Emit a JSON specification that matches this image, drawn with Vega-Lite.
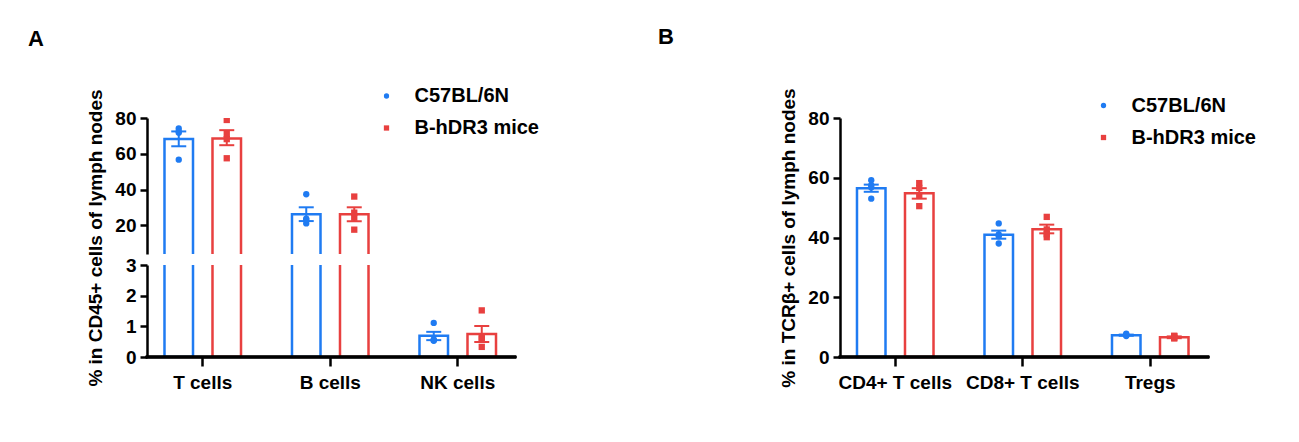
{
  "$schema": "https://vega.github.io/schema/vega-lite/v6.json",
  "background": "white",
  "padding": {"left": 28, "top": 26, "right": 5, "bottom": 5},
  "datasets": {
    "sumA": [
      {"cell": "T cells", "strain": "C57BL/6N", "mean": 68.3, "lo": 64.2, "hi": 72.5},
      {"cell": "T cells", "strain": "B-hDR3 mice", "mean": 68.6, "lo": 64.8, "hi": 73.2},
      {"cell": "B cells", "strain": "C57BL/6N", "mean": 26.2, "lo": 22.4, "hi": 30.1},
      {"cell": "B cells", "strain": "B-hDR3 mice", "mean": 26.2, "lo": 22.3, "hi": 30.1},
      {"cell": "NK cells", "strain": "C57BL/6N", "mean": 0.69, "lo": 0.55, "hi": 0.82},
      {"cell": "NK cells", "strain": "B-hDR3 mice", "mean": 0.75, "lo": 0.49, "hi": 1.01}
    ],
    "ptsA": [
      {"cell": "T cells", "strain": "C57BL/6N", "value": 74.2},
      {"cell": "T cells", "strain": "C57BL/6N", "value": 71.7},
      {"cell": "T cells", "strain": "C57BL/6N", "value": 72.5},
      {"cell": "T cells", "strain": "C57BL/6N", "value": 56.7},
      {"cell": "T cells", "strain": "B-hDR3 mice", "value": 78.9},
      {"cell": "T cells", "strain": "B-hDR3 mice", "value": 68.2},
      {"cell": "T cells", "strain": "B-hDR3 mice", "value": 71.2},
      {"cell": "T cells", "strain": "B-hDR3 mice", "value": 57.5},
      {"cell": "B cells", "strain": "C57BL/6N", "value": 37.4},
      {"cell": "B cells", "strain": "C57BL/6N", "value": 21.1},
      {"cell": "B cells", "strain": "C57BL/6N", "value": 23.8},
      {"cell": "B cells", "strain": "C57BL/6N", "value": 23.2},
      {"cell": "B cells", "strain": "B-hDR3 mice", "value": 36.1},
      {"cell": "B cells", "strain": "B-hDR3 mice", "value": 27.1},
      {"cell": "B cells", "strain": "B-hDR3 mice", "value": 24.3},
      {"cell": "B cells", "strain": "B-hDR3 mice", "value": 17.6},
      {"cell": "NK cells", "strain": "C57BL/6N", "value": 1.11},
      {"cell": "NK cells", "strain": "C57BL/6N", "value": 0.53},
      {"cell": "NK cells", "strain": "C57BL/6N", "value": 0.57},
      {"cell": "NK cells", "strain": "C57BL/6N", "value": 0.55},
      {"cell": "NK cells", "strain": "B-hDR3 mice", "value": 1.52},
      {"cell": "NK cells", "strain": "B-hDR3 mice", "value": 0.60},
      {"cell": "NK cells", "strain": "B-hDR3 mice", "value": 0.63},
      {"cell": "NK cells", "strain": "B-hDR3 mice", "value": 0.33}
    ],
    "sumB": [
      {"cell": "CD4+ T cells", "strain": "C57BL/6N", "mean": 56.5, "lo": 55.3, "hi": 57.7},
      {"cell": "CD4+ T cells", "strain": "B-hDR3 mice", "mean": 54.8, "lo": 53.0, "hi": 56.5},
      {"cell": "CD8+ T cells", "strain": "C57BL/6N", "mean": 40.9, "lo": 39.6, "hi": 42.3},
      {"cell": "CD8+ T cells", "strain": "B-hDR3 mice", "mean": 42.8, "lo": 41.4, "hi": 44.3},
      {"cell": "Tregs", "strain": "C57BL/6N", "mean": 7.3, "lo": 7.1, "hi": 7.5},
      {"cell": "Tregs", "strain": "B-hDR3 mice", "mean": 6.6, "lo": 6.3, "hi": 6.9}
    ],
    "ptsB": [
      {"cell": "CD4+ T cells", "strain": "C57BL/6N", "value": 59.2},
      {"cell": "CD4+ T cells", "strain": "C57BL/6N", "value": 57.5},
      {"cell": "CD4+ T cells", "strain": "C57BL/6N", "value": 56.7},
      {"cell": "CD4+ T cells", "strain": "C57BL/6N", "value": 53.0},
      {"cell": "CD4+ T cells", "strain": "B-hDR3 mice", "value": 58.2},
      {"cell": "CD4+ T cells", "strain": "B-hDR3 mice", "value": 56.6},
      {"cell": "CD4+ T cells", "strain": "B-hDR3 mice", "value": 54.2},
      {"cell": "CD4+ T cells", "strain": "B-hDR3 mice", "value": 50.5},
      {"cell": "CD8+ T cells", "strain": "C57BL/6N", "value": 44.7},
      {"cell": "CD8+ T cells", "strain": "C57BL/6N", "value": 41.0},
      {"cell": "CD8+ T cells", "strain": "C57BL/6N", "value": 40.4},
      {"cell": "CD8+ T cells", "strain": "C57BL/6N", "value": 38.0},
      {"cell": "CD8+ T cells", "strain": "B-hDR3 mice", "value": 46.9},
      {"cell": "CD8+ T cells", "strain": "B-hDR3 mice", "value": 42.7},
      {"cell": "CD8+ T cells", "strain": "B-hDR3 mice", "value": 41.1},
      {"cell": "CD8+ T cells", "strain": "B-hDR3 mice", "value": 40.1},
      {"cell": "Tregs", "strain": "C57BL/6N", "value": 7.8},
      {"cell": "Tregs", "strain": "C57BL/6N", "value": 7.0},
      {"cell": "Tregs", "strain": "C57BL/6N", "value": 7.35},
      {"cell": "Tregs", "strain": "C57BL/6N", "value": 7.45},
      {"cell": "Tregs", "strain": "B-hDR3 mice", "value": 7.1},
      {"cell": "Tregs", "strain": "B-hDR3 mice", "value": 6.2},
      {"cell": "Tregs", "strain": "B-hDR3 mice", "value": 6.45},
      {"cell": "Tregs", "strain": "B-hDR3 mice", "value": 7.0}
    ]
  },
  "bounds": "flush",
  "spacing": 693,
  "resolve": {"legend": {"color": "independent", "shape": "independent"}},
  "hconcat": [
    {
      "bounds": "flush",
      "spacing": 11,
      "resolve": {"legend": {"color": "independent", "shape": "independent"}},
      "vconcat": [
        {
          "width": 368,
          "height": 136,
          "title": {"text": "A", "anchor": "start", "frame": "group", "dx": -119, "offset": 35.5},
          "layer": [
            {
              "data": {"name": "sumA"},
              "mark": {"type": "bar", "filled": false, "strokeWidth": 2.5, "clip": true},
              "encoding": {
                "x": {"field": "cell", "type": "nominal", "sort": ["T cells", "B cells", "NK cells"], "scale": {"range": [-8, 374.5], "paddingInner": 0, "paddingOuter": 0}, "axis": null},
                "xOffset": {"field": "strain", "type": "nominal", "sort": ["C57BL/6N", "B-hDR3 mice"], "scale": {"paddingInner": 0.406, "paddingOuter": 0.531}},
                "y": {"field": "mean", "type": "quantitative", "title": "% in CD45+ cells of lymph nodes", "scale": {"domain": [4, 80], "nice": false, "zero": false}, "axis": {"values": [20, 40, 60, 80], "tickCount": 10, "format": "d", "titleY": 119.5}},
                "y2": {"datum": 0},
                "stroke": {"field": "strain", "type": "nominal", "scale": {"domain": ["C57BL/6N", "B-hDR3 mice"], "range": ["#1F7BF2", "#E8403F"]}, "legend": null}
              }
            },
            {
              "data": {"name": "sumA"},
              "mark": {"type": "rule", "strokeWidth": 2, "clip": true},
              "encoding": {
                "x": {"field": "cell", "type": "nominal", "sort": ["T cells", "B cells", "NK cells"], "axis": null},
                "xOffset": {"field": "strain", "type": "nominal", "sort": ["C57BL/6N", "B-hDR3 mice"]},
                "y": {"field": "lo", "type": "quantitative", "title": "% in CD45+ cells of lymph nodes", "scale": {"domain": [4, 80], "nice": false, "zero": false}, "axis": {"values": [20, 40, 60, 80], "tickCount": 10, "format": "d", "titleY": 119.5}},
                "y2": {"field": "hi"},
                "stroke": {"field": "strain", "type": "nominal", "legend": null}
              }
            },
            {
              "data": {"name": "sumA"},
              "mark": {"type": "tick", "orient": "horizontal", "size": 15, "thickness": 2, "opacity": 1, "clip": true},
              "encoding": {
                "x": {"field": "cell", "type": "nominal", "sort": ["T cells", "B cells", "NK cells"], "axis": null},
                "xOffset": {"field": "strain", "type": "nominal", "sort": ["C57BL/6N", "B-hDR3 mice"]},
                "y": {"field": "lo", "type": "quantitative", "title": "% in CD45+ cells of lymph nodes", "scale": {"domain": [4, 80], "nice": false, "zero": false}, "axis": {"values": [20, 40, 60, 80], "tickCount": 10, "format": "d", "titleY": 119.5}},
                "fill": {"field": "strain", "type": "nominal", "scale": {"domain": ["C57BL/6N", "B-hDR3 mice"], "range": ["#1F7BF2", "#E8403F"]}, "legend": null}
              }
            },
            {
              "data": {"name": "sumA"},
              "mark": {"type": "tick", "orient": "horizontal", "size": 15, "thickness": 2, "opacity": 1, "clip": true},
              "encoding": {
                "x": {"field": "cell", "type": "nominal", "sort": ["T cells", "B cells", "NK cells"], "axis": null},
                "xOffset": {"field": "strain", "type": "nominal", "sort": ["C57BL/6N", "B-hDR3 mice"]},
                "y": {"field": "hi", "type": "quantitative", "title": "% in CD45+ cells of lymph nodes", "scale": {"domain": [4, 80], "nice": false, "zero": false}, "axis": {"values": [20, 40, 60, 80], "tickCount": 10, "format": "d", "titleY": 119.5}},
                "fill": {"field": "strain", "type": "nominal", "legend": null}
              }
            },
            {
              "data": {"name": "ptsA"},
              "mark": {"type": "point", "filled": true, "size": 40, "opacity": 1, "clip": true},
              "encoding": {
                "x": {"field": "cell", "type": "nominal", "sort": ["T cells", "B cells", "NK cells"], "axis": null},
                "xOffset": {"field": "strain", "type": "nominal", "sort": ["C57BL/6N", "B-hDR3 mice"]},
                "y": {"field": "value", "type": "quantitative", "title": "% in CD45+ cells of lymph nodes", "scale": {"domain": [4, 80], "nice": false, "zero": false}, "axis": {"values": [20, 40, 60, 80], "tickCount": 10, "format": "d", "titleY": 119.5}},
                "color": {"field": "strain", "type": "nominal", "scale": {"domain": ["C57BL/6N", "B-hDR3 mice"], "range": ["#1F7BF2", "#E8403F"]}, "legend": {"orient": "none", "legendX": 229.5, "legendY": -32, "title": null, "labelOffset": 18, "rowPadding": 12}},
                "shape": {"field": "strain", "type": "nominal", "scale": {"domain": ["C57BL/6N", "B-hDR3 mice"], "range": ["circle", "square"]}, "legend": {"orient": "none", "legendX": 229.5, "legendY": -32, "title": null, "labelOffset": 18, "rowPadding": 12}}
              }
            }
          ]
        },
        {
          "width": 368,
          "height": 92,
          "layer": [
            {
              "data": {"name": "sumA"},
              "mark": {"type": "bar", "filled": false, "strokeWidth": 2.5, "clip": true},
              "encoding": {
                "x": {"field": "cell", "type": "nominal", "sort": ["T cells", "B cells", "NK cells"], "title": null, "scale": {"range": [-8, 374.5], "paddingInner": 0, "paddingOuter": 0}},
                "xOffset": {"field": "strain", "type": "nominal", "sort": ["C57BL/6N", "B-hDR3 mice"], "scale": {"paddingInner": 0.406, "paddingOuter": 0.531}},
                "y": {"field": "mean", "type": "quantitative", "title": null, "scale": {"domain": [0, 3], "nice": false}, "axis": {"values": [0, 1, 2, 3], "tickCount": 10, "format": "d"}},
                "y2": {"datum": 0},
                "stroke": {"field": "strain", "type": "nominal", "legend": null}
              }
            },
            {
              "data": {"name": "sumA"},
              "mark": {"type": "rule", "strokeWidth": 2, "clip": true},
              "encoding": {
                "x": {"field": "cell", "type": "nominal", "sort": ["T cells", "B cells", "NK cells"], "title": null},
                "xOffset": {"field": "strain", "type": "nominal", "sort": ["C57BL/6N", "B-hDR3 mice"]},
                "y": {"field": "lo", "type": "quantitative", "title": null, "scale": {"domain": [0, 3], "nice": false}, "axis": {"values": [0, 1, 2, 3], "tickCount": 10, "format": "d"}},
                "y2": {"field": "hi"},
                "stroke": {"field": "strain", "type": "nominal", "legend": null}
              }
            },
            {
              "data": {"name": "sumA"},
              "mark": {"type": "tick", "orient": "horizontal", "size": 15, "thickness": 2, "opacity": 1, "clip": true},
              "encoding": {
                "x": {"field": "cell", "type": "nominal", "sort": ["T cells", "B cells", "NK cells"], "title": null},
                "xOffset": {"field": "strain", "type": "nominal", "sort": ["C57BL/6N", "B-hDR3 mice"]},
                "y": {"field": "lo", "type": "quantitative", "title": null, "scale": {"domain": [0, 3], "nice": false}, "axis": {"values": [0, 1, 2, 3], "tickCount": 10, "format": "d"}},
                "fill": {"field": "strain", "type": "nominal", "legend": null}
              }
            },
            {
              "data": {"name": "sumA"},
              "mark": {"type": "tick", "orient": "horizontal", "size": 15, "thickness": 2, "opacity": 1, "clip": true},
              "encoding": {
                "x": {"field": "cell", "type": "nominal", "sort": ["T cells", "B cells", "NK cells"], "title": null},
                "xOffset": {"field": "strain", "type": "nominal", "sort": ["C57BL/6N", "B-hDR3 mice"]},
                "y": {"field": "hi", "type": "quantitative", "title": null, "scale": {"domain": [0, 3], "nice": false}, "axis": {"values": [0, 1, 2, 3], "tickCount": 10, "format": "d"}},
                "fill": {"field": "strain", "type": "nominal", "legend": null}
              }
            },
            {
              "data": {"name": "ptsA"},
              "mark": {"type": "point", "filled": true, "size": 40, "opacity": 1, "clip": true},
              "encoding": {
                "x": {"field": "cell", "type": "nominal", "sort": ["T cells", "B cells", "NK cells"], "title": null},
                "xOffset": {"field": "strain", "type": "nominal", "sort": ["C57BL/6N", "B-hDR3 mice"]},
                "y": {"field": "value", "type": "quantitative", "title": null, "scale": {"domain": [0, 3], "nice": false}, "axis": {"values": [0, 1, 2, 3], "tickCount": 10, "format": "d"}},
                "color": {"field": "strain", "type": "nominal", "legend": null},
                "shape": {"field": "strain", "type": "nominal", "legend": null}
              }
            },
            {
              "data": {"name": "sumA"},
              "mark": {"type": "rule", "strokeWidth": 2.5, "color": "black", "strokeCap": "square"},
              "encoding": {"y": {"datum": 0}}
            }
          ]
        }
      ]
    },
    {
      "width": 368,
      "height": 239,
      "title": {"text": "B", "anchor": "start", "frame": "group", "dx": -182, "offset": 38.5},
      "layer": [
        {
          "data": {"name": "sumB"},
          "mark": {"type": "bar", "filled": false, "strokeWidth": 2.5},
          "encoding": {
            "x": {"field": "cell", "type": "nominal", "sort": ["CD4+ T cells", "CD8+ T cells", "Tregs"], "title": null, "scale": {"range": [-8.5, 374], "paddingInner": 0, "paddingOuter": 0}},
            "xOffset": {"field": "strain", "type": "nominal", "sort": ["C57BL/6N", "B-hDR3 mice"], "scale": {"paddingInner": 0.406, "paddingOuter": 0.531}},
            "y": {"field": "mean", "type": "quantitative", "title": "% in TCRβ+ cells of lymph nodes", "scale": {"domain": [0, 80], "nice": false}, "axis": {"values": [0, 20, 40, 60, 80], "tickCount": 10, "format": "d"}},
            "stroke": {"field": "strain", "type": "nominal", "legend": null}
          }
        },
        {
          "data": {"name": "sumB"},
          "mark": {"type": "rule", "strokeWidth": 2},
          "encoding": {
            "x": {"field": "cell", "type": "nominal", "sort": ["CD4+ T cells", "CD8+ T cells", "Tregs"], "title": null},
            "xOffset": {"field": "strain", "type": "nominal", "sort": ["C57BL/6N", "B-hDR3 mice"]},
            "y": {"field": "lo", "type": "quantitative", "title": "% in TCRβ+ cells of lymph nodes", "scale": {"domain": [0, 80], "nice": false}, "axis": {"values": [0, 20, 40, 60, 80], "tickCount": 10, "format": "d"}},
            "y2": {"field": "hi"},
            "stroke": {"field": "strain", "type": "nominal", "legend": null}
          }
        },
        {
          "data": {"name": "sumB"},
          "mark": {"type": "tick", "orient": "horizontal", "size": 15, "thickness": 2, "opacity": 1},
          "encoding": {
            "x": {"field": "cell", "type": "nominal", "sort": ["CD4+ T cells", "CD8+ T cells", "Tregs"], "title": null},
            "xOffset": {"field": "strain", "type": "nominal", "sort": ["C57BL/6N", "B-hDR3 mice"]},
            "y": {"field": "lo", "type": "quantitative", "title": "% in TCRβ+ cells of lymph nodes", "scale": {"domain": [0, 80], "nice": false}, "axis": {"values": [0, 20, 40, 60, 80], "tickCount": 10, "format": "d"}},
            "fill": {"field": "strain", "type": "nominal", "legend": null}
          }
        },
        {
          "data": {"name": "sumB"},
          "mark": {"type": "tick", "orient": "horizontal", "size": 15, "thickness": 2, "opacity": 1},
          "encoding": {
            "x": {"field": "cell", "type": "nominal", "sort": ["CD4+ T cells", "CD8+ T cells", "Tregs"], "title": null},
            "xOffset": {"field": "strain", "type": "nominal", "sort": ["C57BL/6N", "B-hDR3 mice"]},
            "y": {"field": "hi", "type": "quantitative", "title": "% in TCRβ+ cells of lymph nodes", "scale": {"domain": [0, 80], "nice": false}, "axis": {"values": [0, 20, 40, 60, 80], "tickCount": 10, "format": "d"}},
            "fill": {"field": "strain", "type": "nominal", "legend": null}
          }
        },
        {
          "data": {"name": "ptsB"},
          "mark": {"type": "point", "filled": true, "size": 40, "opacity": 1},
          "encoding": {
            "x": {"field": "cell", "type": "nominal", "sort": ["CD4+ T cells", "CD8+ T cells", "Tregs"], "title": null},
            "xOffset": {"field": "strain", "type": "nominal", "sort": ["C57BL/6N", "B-hDR3 mice"]},
            "y": {"field": "value", "type": "quantitative", "title": "% in TCRβ+ cells of lymph nodes", "scale": {"domain": [0, 80], "nice": false}, "axis": {"values": [0, 20, 40, 60, 80], "tickCount": 10, "format": "d"}},
            "color": {"field": "strain", "type": "nominal", "legend": {"orient": "none", "legendX": 253.5, "legendY": -22.5, "title": null, "labelOffset": 18, "rowPadding": 12}},
            "shape": {"field": "strain", "type": "nominal", "legend": {"orient": "none", "legendX": 253.5, "legendY": -22.5, "title": null, "labelOffset": 18, "rowPadding": 12}}
          }
        },
        {
          "data": {"name": "sumB"},
          "mark": {"type": "rule", "strokeWidth": 2.5, "color": "black", "strokeCap": "square"},
          "encoding": {"y": {"datum": 0}}
        }
      ]
    }
  ],
  "config": {
    "font": "Liberation Sans",
    "view": {"stroke": null},
    "title": {"fontSize": 22, "fontWeight": "bold", "color": "black", "font": "Liberation Sans"},
    "axis": {
      "grid": false,
      "domainColor": "black",
      "domainWidth": 2.5,
      "tickColor": "black",
      "tickWidth": 2.5,
      "tickSize": 7,
      "labelPadding": 4,
      "labelFont": "Liberation Sans",
      "labelFontSize": 19,
      "labelFontWeight": "bold",
      "labelColor": "black",
      "titleFont": "Liberation Sans",
      "titleFontSize": 19,
      "titleFontWeight": "bold",
      "titleColor": "black",
      "titlePadding": 9
    },
    "axisX": {"domain": false, "labelAngle": 0, "tickSize": 9, "labelPadding": 7},
    "legend": {
      "labelFont": "Liberation Sans",
      "labelFontSize": 20,
      "labelFontWeight": "bold",
      "labelColor": "black",
      "symbolSize": 28,
      "symbolStrokeWidth": 0,
      "padding": 0,
      "labelLimit": 300
    }
  }
}
